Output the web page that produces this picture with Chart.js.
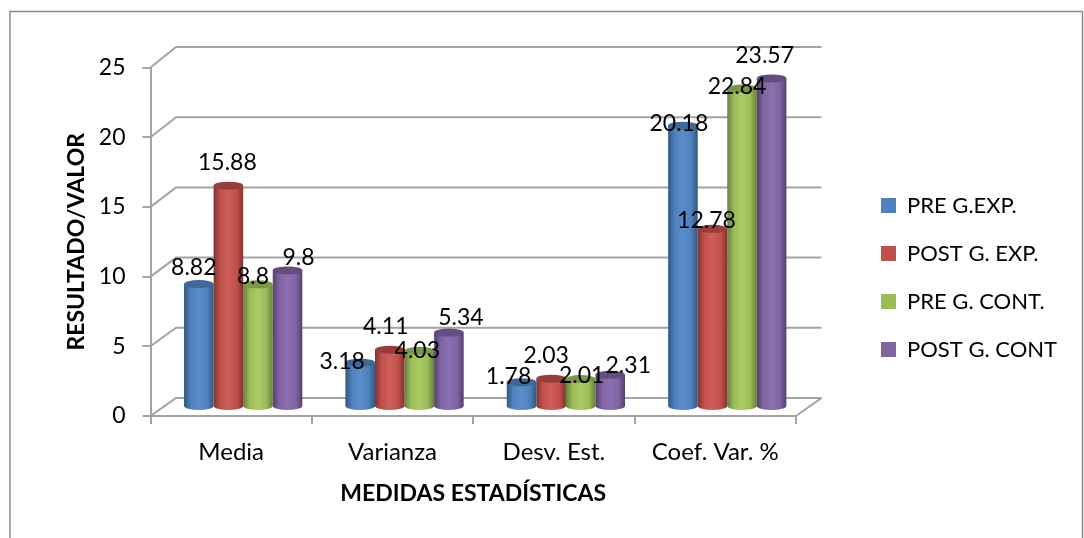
<!DOCTYPE html>
<html>
<head>
<meta charset="utf-8">
<style>
    html, body { margin: 0; padding: 0; background: #fff; overflow: hidden; }
    #wrap { width: 1084px; height: 538px; }
</style>
<script src="https://cdn.jsdelivr.net/npm/chart.js@4/dist/chart.umd.min.js"></script>
</head>
<body>
<div id="wrap"><canvas id="chart" width="1084" height="538"></canvas></div>
<script>
const categories = ['Media', 'Varianza', 'Desv. Est.', 'Coef. Var. %'];
const preExp = [8.82, 3.18, 1.78, 20.18];
const postExp = [15.88, 4.11, 2.03, 12.78];
const preCont = [8.8, 4.03, 2.01, 22.84];
const postCont = [9.8, 5.34, 2.31, 23.57];
const seriesNames = ['PRE G.EXP.', 'POST G. EXP.', 'PRE G. CONT.', 'POST G. CONT'];

const colors = ['#4F81BD', '#C0504D', '#9BBB59', '#8064A2'];
const edgeColors = ['#32587F', '#7E3431', '#66803A', '#54406E'];
const lightColors = ['#5A8ECB', '#D05E5A', '#A9CC64', '#8C6FB1'];
const capColors = ['#3F6897', '#963E3B', '#7A9646', '#634D80'];
const gridColor = '#a3a3a3';
const fontName = 'Lato, "Open Sans", sans-serif';

// hand placed label nudges per series, like the moved labels in the original
const labelNudgeX = [[-5, -18, -13, -4], [-1, -4, -5, -6], [-5, -2, 1, -5], [11, 12, 18, -7]];
const labelNudgeY = [[-16, -1, -6, -2], [-23, -23, -23, -8], [-8, 0, -3, -2], [-13, -15, -9, -23]];

// shift of the bars into the "floor" and size of the back wall
const barShiftX = 12;
const barShiftY = -9;
const wallX = 25.5;
const capRadius = 4;

function wallY(y, scale) {
    return 18 + 2.5 * (scale.bottom - y) / (scale.bottom - scale.top);
}

const framePlugin = {
    id: 'frame',
    beforeDraw(chart) {
        const ctx = chart.ctx;
        ctx.save();
        ctx.strokeStyle = '#8c8c8c';
        ctx.lineWidth = 1.5;
        ctx.beginPath();
        ctx.moveTo(10, 545);
        ctx.lineTo(10, 11.5);
        ctx.lineTo(1082.5, 11.5);
        ctx.lineTo(1082.5, 545);
        ctx.stroke();
        ctx.restore();
    }
};

const legendPlacePlugin = {
    id: 'legendPlace',
    afterLayout(chart) {
        const lg = chart.legend;
        lg.left = 855;
        lg.right = 1084;
        lg.top = 168.5;
        lg.bottom = 538;
    }
};

const wallPlugin = {
    id: 'wall',
    beforeDatasetsDraw(chart) {
        const { ctx, chartArea, scales } = chart;
        const yScale = scales.y;
        ctx.save();
        ctx.strokeStyle = gridColor;
        ctx.lineWidth = 2;
        yScale.ticks.forEach(t => {
            const y = yScale.getPixelForValue(t.value);
            const by = y - wallY(y, yScale);
            ctx.beginPath();
            ctx.moveTo(chartArea.left, y);
            ctx.lineTo(chartArea.left + wallX, by);
            ctx.lineTo(chartArea.right + wallX, by);
            ctx.stroke();
        });
        const y0 = yScale.getPixelForValue(0);
        ctx.beginPath();
        ctx.moveTo(chartArea.right, y0);
        ctx.lineTo(chartArea.right + wallX, y0 - wallY(y0, yScale));
        ctx.stroke();
        ctx.restore();
    }
};

const cylinderPlugin = {
    id: 'cylinder',
    beforeDatasetDraw(chart, args) {
        const ctx = chart.ctx;
        const i = args.index;
        args.meta.data.forEach(bar => {
            const w = bar.width;
            const left = bar.x - w / 2 + barShiftX;
            const cx = bar.x + barShiftX;
            const top = bar.y + barShiftY;
            const base = bar.base + barShiftY;
            const grad = ctx.createLinearGradient(left, 0, left + w, 0);
            grad.addColorStop(0, edgeColors[i]);
            grad.addColorStop(0.22, colors[i]);
            grad.addColorStop(0.5, lightColors[i]);
            grad.addColorStop(0.78, colors[i]);
            grad.addColorStop(1, edgeColors[i]);
            ctx.save();
            ctx.fillStyle = grad;
            ctx.beginPath();
            ctx.moveTo(left, top);
            ctx.lineTo(left, base);
            ctx.ellipse(cx, base, w / 2, capRadius, 0, Math.PI, 0, true);
            ctx.lineTo(left + w, top);
            ctx.closePath();
            ctx.fill();
            ctx.fillStyle = capColors[i];
            ctx.beginPath();
            ctx.ellipse(cx, top, w / 2, capRadius, 0, 0, Math.PI * 2);
            ctx.fill();
            ctx.restore();
        });
        return false;
    }
};

const valueLabelPlugin = {
    id: 'valueLabels',
    afterDatasetsDraw(chart) {
        const ctx = chart.ctx;
        ctx.save();
        ctx.fillStyle = '#000';
        ctx.font = '23px ' + fontName;
        ctx.textAlign = 'center';
        ctx.textBaseline = 'middle';
        chart.data.datasets.forEach((ds, i) => {
            chart.getDatasetMeta(i).data.forEach((bar, j) => {
                const x = bar.x + barShiftX + labelNudgeX[i][j];
                const y = bar.y + barShiftY + labelNudgeY[i][j];
                ctx.fillText(String(ds.data[j]), x, y);
            });
        });
        ctx.restore();
    }
};

function makeDataset(label, values, color) {
    return { label: label, data: values, backgroundColor: color, borderWidth: 0 };
}

new Chart(document.getElementById('chart'), {
    type: 'bar',
    data: {
        labels: categories,
        datasets: [
            makeDataset(seriesNames[0], preExp, colors[0]),
            makeDataset(seriesNames[1], postExp, colors[1]),
            makeDataset(seriesNames[2], preCont, colors[2]),
            makeDataset(seriesNames[3], postCont, colors[3])
        ]
    },
    plugins: [framePlugin, legendPlacePlugin, wallPlugin, cylinderPlugin, valueLabelPlugin],
    options: {
        responsive: false,
        animation: false,
        layout: { padding: { left: 59, top: 67.5, right: 76, bottom: 27 } },
        datasets: { bar: { categoryPercentage: 0.733, barPercentage: 1 } },
        plugins: {
            tooltip: { enabled: false },
            legend: {
                position: 'right',
                align: 'start',
                labels: {
                    boxWidth: 15,
                    boxHeight: 15,
                    padding: 26,
                    color: '#000',
                    font: { family: fontName, size: 22 }
                }
            }
        },
        scales: {
            x: {
                afterFit: s => { s.height = 95; },
                grid: { drawOnChartArea: false, tickLength: 8, color: gridColor, lineWidth: 2 },
                border: { color: gridColor, width: 2 },
                ticks: { color: '#000', padding: 14, font: { family: fontName, size: 24 } },
                title: {
                    display: true,
                    text: 'MEDIDAS ESTADÍSTICAS',
                    color: '#000',
                    font: { family: fontName, size: 23, weight: 'bold' }
                }
            },
            y: {
                min: 0,
                max: 25,
                afterFit: s => { s.width = 91.5; },
                grid: { drawOnChartArea: false, tickLength: 8, color: gridColor, lineWidth: 2 },
                border: { color: gridColor, width: 2 },
                ticks: { stepSize: 5, color: '#000', padding: 17, font: { family: fontName, size: 23 } },
                title: {
                    display: true,
                    text: 'RESULTADO/VALOR',
                    color: '#000',
                    font: { family: fontName, size: 23, weight: 'bold' }
                }
            }
        }
    }
});
</script>
</body>
</html>
